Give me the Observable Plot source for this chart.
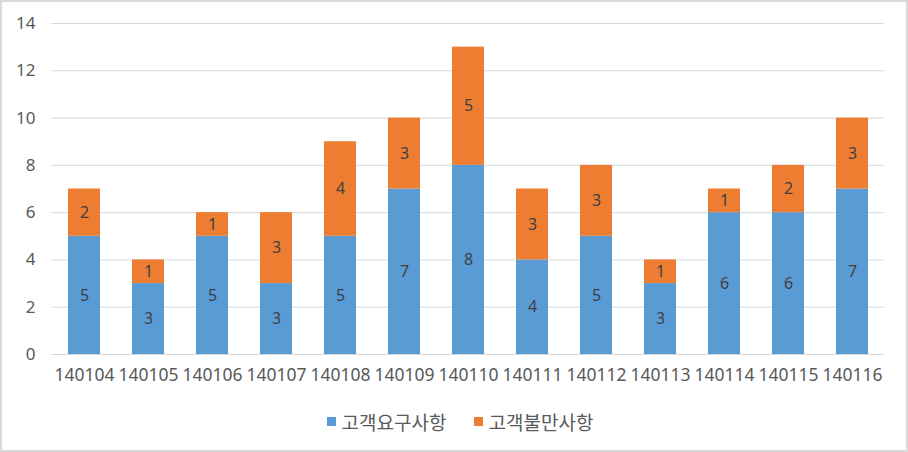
<!DOCTYPE html>
<html>
<head>
<meta charset="utf-8">
<script src="https://cdn.jsdelivr.net/npm/d3@7"></script>
<script src="https://cdn.jsdelivr.net/npm/@observablehq/plot@0.6"></script>
<style>
  html, body { margin: 0; padding: 0; background: #fff; }
  #wrap { width: 908px; height: 452px; box-sizing: border-box; border: 2px solid #d9d9d9; background: #fff; overflow: hidden;
    font-family: "Noto Sans", "Noto Sans CJK KR", sans-serif; }
  #legend { display: flex; justify-content: center; align-items: center; gap: 27px; margin-top: 8px; height: 22px;
    font-family: "Noto Sans CJK KR", sans-serif; font-size: 19px; color: #595959; padding-left: 12px; }
  #legend .item { display: flex; align-items: center; gap: 6px; }
  #legend .sw { width: 9px; height: 9px; display: inline-block; }
</style>
</head>
<body>
<div id="wrap">
  <div id="chart"></div>
  <div id="legend"></div>
</div>
<script>
const categories = ["140104","140105","140106","140107","140108","140109","140110","140111","140112","140113","140114","140115","140116"];
const seriesNames = ["고객요구사항", "고객불만사항"];
const requests = [5, 3, 5, 3, 5, 7, 8, 4, 5, 3, 6, 6, 7];
const complaints = [2, 1, 1, 3, 4, 3, 5, 3, 3, 1, 1, 2, 3];
const yTicks = [0, 2, 4, 6, 8, 10, 12, 14];
const colors = ["#5b9bd5", "#ed7d31"];

const data = [];
categories.forEach((c, i) => data.push({cat: c, series: seriesNames[0], value: requests[i]}));
categories.forEach((c, i) => data.push({cat: c, series: seriesNames[1], value: complaints[i]}));

const chart = Plot.plot({
  width: 904,
  height: 400,
  marginTop: 21,
  marginBottom: 48,
  marginLeft: 49,
  marginRight: 22,
  style: {fontFamily: '"Noto Sans", "Noto Sans CJK KR", sans-serif', fontSize: "16px", color: "#595959", background: "#fff"},
  x: {domain: categories, paddingInner: 0.5, paddingOuter: 0.25, label: null},
  y: {domain: [0, 14], ticks: yTicks, label: null},
  color: {domain: seriesNames, range: colors},
  marks: [
    Plot.gridY(yTicks, {stroke: "#d9d9d9", strokeOpacity: 1}),
    Plot.barY(data, Plot.stackY({x: "cat", y: "value", z: "series", fill: "series"})),
    Plot.text(data, Plot.stackY({x: "cat", y: "value", z: "series", text: "value", fill: "#404040", fontSize: 16})),
    Plot.axisX({tickSize: 0, tickPadding: 14, fontSize: 17.5, fill: "#595959", label: null}),
    Plot.axisY(yTicks, {tickSize: 0, tickPadding: 16, fontSize: 17, fill: "#595959", label: null})
  ]
});
document.getElementById("chart").appendChild(chart);

const legend = document.getElementById("legend");
seriesNames.forEach((s, i) => {
  const item = document.createElement("span");
  item.className = "item";
  const sw = document.createElement("span");
  sw.className = "sw";
  sw.style.background = colors[i];
  const label = document.createElement("span");
  label.textContent = s;
  item.appendChild(sw);
  item.appendChild(label);
  legend.appendChild(item);
});
</script>
</body>
</html>
